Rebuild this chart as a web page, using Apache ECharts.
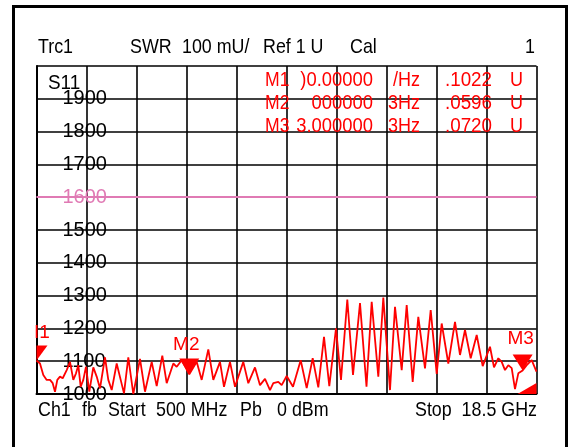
<!DOCTYPE html>
<html><head><meta charset="utf-8">
<script src="https://cdn.jsdelivr.net/npm/echarts@6/dist/echarts.min.js"></script>
<style>html,body{margin:0;padding:0;background:#fff}#c{width:569px;height:447px}</style>
</head><body><div id="c"></div>
<script>
// ---- data ----
const freqGHz = [0.500,0.626,0.745,0.867,0.986,1.083,1.166,1.249,1.346,1.443,
1.587,1.706,1.825,1.922,2.005,2.091,2.185,2.282,2.401,2.545,
2.667,2.786,2.966,3.085,3.207,3.387,3.531,3.650,3.805,3.985,
4.226,4.406,4.647,4.827,5.029,5.187,5.425,5.547,5.727,6.000,
6.267,6.447,6.685,6.865,7.106,7.250,7.466,7.646,7.945,8.125,
8.366,8.546,8.726,8.906,9.025,9.205,9.327,9.507,9.734,10.011,
10.227,10.443,10.645,10.850,11.041,11.282,11.462,11.689,11.894,12.146,
12.380,12.567,12.805,12.985,13.226,13.406,13.647,13.827,14.043,14.245,
14.486,14.691,14.907,15.087,15.325,15.566,15.746,15.926,16.131,16.347,
16.563,16.826,16.970,17.125,17.247,17.366,17.485,17.607,17.726,17.845,
18.000,18.147,18.327,18.500];
const swrMU = [1102,1093,1058,1043,1043,1033,1007,1043,1053,1048,
1073,1098,1043,1063,1088,1022,1043,1083,1007,1081,
1053,1017,1112,1043,1012,1093,1043,1002,1112,1000,
1107,1007,1098,1024,1117,1033,1093,1083,1103,1060,
1098,1043,1136,1043,1098,1022,1098,1022,1098,1033,
1081,1027,1046,1012,1033,1037,1027,1055,1022,1103,
1018,1109,1020,1174,1024,1200,1043,1288,1058,1277,
1022,1281,1053,1294,1012,1266,1073,1271,1037,1235,
1078,1256,1061,1215,1093,1220,1119,1195,1109,1180,
1085,1144,1081,1109,1098,1073,1088,1079,1015,1063,
1072,1088,1103,1068];
const yMin = 1000, yMax = 2000, yStep = 100;
const xStart = 0.5, xStop = 18.5;
const refLine = 1600;
const markerNames = ['M1','M2','M3'];
const markerLabels = ['I1','M2','M3'];
const markerFreqGHz = [0.5, 6.0, 18.0];
const markerSWR = [1102.2, 1059.6, 1072.0];
const markerFreqText = [')0.00000','000000','3.000000'];
const markerUnitText = ['/Hz','3Hz','3Hz'];
const markerValText = ['.1022','.0596','.0720'];
const markerValUnit = ['U','U','U'];
const headerTexts = ['Trc1','SWR','100 mU/','Ref 1 U','Cal','1'];
const footerTexts = ['Ch1','fb','Start','500 MHz','Pb','0 dBm','Stop','18.5 GHz'];
const traceName = 'S11';

const FONT = "'Liberation Sans',Arial,sans-serif";
const RED = '#ff0000', PINK = '#e07ab4';

const chart = echarts.init(document.getElementById('c'), null, {renderer:'canvas'});

function txt(t, x, y, align, color, size, sx) {
  return {type:'text', x:x, y:y, scaleX:sx||0.85, silent:true, z:100,
    style:{text:t, fill:color||'#000', font:(size||21)+'px '+FONT, textAlign:align||'left', textVerticalAlign:'middle'}};
}
const headerX = [38,130,182,263,350,535];
const headerAl = ['left','left','left','left','left','right'];
const footerX = [38,82,108,156,240,277,415,537];
const footerAl = ['left','left','left','left','left','left','left','right'];
const graphics = [
  {type:'rect', shape:{x:13.5,y:6.5,width:553,height:470}, style:{fill:null, stroke:'#000', lineWidth:3}, silent:true}
];
headerTexts.forEach((t,i)=>graphics.push(txt(t, headerX[i], 47.5, headerAl[i])));
footerTexts.forEach((t,i)=>graphics.push(txt(t, footerX[i], 410, footerAl[i])));
graphics.push(txt(traceName, 48, 83, 'left', '#000', 21, 0.9));
const rowY = [80,103,126];
markerNames.forEach((m,i)=>{
  graphics.push(txt(m, 265, rowY[i], 'left', RED, 20, 0.88));
  graphics.push(txt(markerFreqText[i], 373, rowY[i], 'right', RED, 20, 0.92));
  graphics.push(txt(markerUnitText[i], 420, rowY[i], 'right', RED, 20, 0.9));
  graphics.push(txt(markerValText[i], 492, rowY[i], 'right', RED, 20, 0.94));
  graphics.push(txt(markerValUnit[i], 523, rowY[i], 'right', RED, 20, 0.9));
});

const lbl = {show:true, position:'top', color:RED, fontSize:19, fontFamily:FONT};
const mpData = [
  {name:markerNames[0], coord:[markerFreqGHz[0], markerSWR[0]], symbol:'path://M0,0 L10,0 L0,14 Z',
   symbolSize:[11,15], symbolOffset:[5.5,-7.5], label:Object.assign({}, lbl, {formatter:markerLabels[0], distance:3})},
  {name:markerNames[1], coord:[markerFreqGHz[1], markerSWR[1]], symbol:'path://M0,0 L20,0 L10,16 Z',
   symbolSize:[20,16], symbolOffset:[0,-8], label:Object.assign({}, lbl, {formatter:markerLabels[1], distance:4, offset:[-3,0]})},
  {name:markerNames[2], coord:[markerFreqGHz[2], markerSWR[2]], symbol:'path://M0,0 L20,0 L10,16 Z',
   symbolSize:[20,16], symbolOffset:[0,-8], label:Object.assign({}, lbl, {formatter:markerLabels[2], distance:6, offset:[-2,0]})},
  {name:'limit', coord:[xStop, yMin], symbol:'path://M0,11 L19,0 L19,11 Z',
   symbolSize:[19,11], symbolOffset:[-9.5,-5.5], label:{show:false}}
];

chart.setOption({
  animation:false,
  backgroundColor:'#fff',
  graphic: graphics,
  grid:{left:36.5, top:66, width:500, height:328, containLabel:false},
  xAxis:[
    {type:'value', min:xStart, max:xStop, axisLine:{show:true, onZero:false, lineStyle:{color:'#000', width:2}},
     axisTick:{show:false}, axisLabel:{show:false}, splitLine:{show:false}},
    {type:'value', min:0, max:10, interval:1, position:'bottom', axisLine:{show:false}, axisTick:{show:false},
     axisLabel:{show:false}, splitLine:{show:true, lineStyle:{color:'#000', width:1.6}}}
  ],
  yAxis:{type:'value', min:yMin, max:yMax, interval:yStep,
    axisLine:{show:true, onZero:false, lineStyle:{color:'#000', width:2}}, axisTick:{show:false},
    axisLabel:{inside:true, margin:26, showMaxLabel:false, fontSize:20, fontFamily:FONT,
      formatter:function(v){ return String(v); },
      color:function(v){ return Number(v) === refLine ? PINK : '#000'; }},
    splitLine:{show:true, lineStyle:{color:'#000', width:1.6}}},
  series:[{
    type:'line', xAxisIndex:0, yAxisIndex:0, data: freqGHz.map((f,i)=>[f, swrMU[i]]),
    showSymbol:false, symbol:'none', clip:true, z:5,
    lineStyle:{color:RED, width:1.8},
    markLine:{silent:true, symbol:['none','none'], label:{show:false}, z:3,
      lineStyle:{color:PINK, width:2, type:'solid'}, data:[{yAxis:refLine}]},
    markPoint:{silent:true, itemStyle:{color:RED}, data: mpData}
  }]
});
</script></body></html>
